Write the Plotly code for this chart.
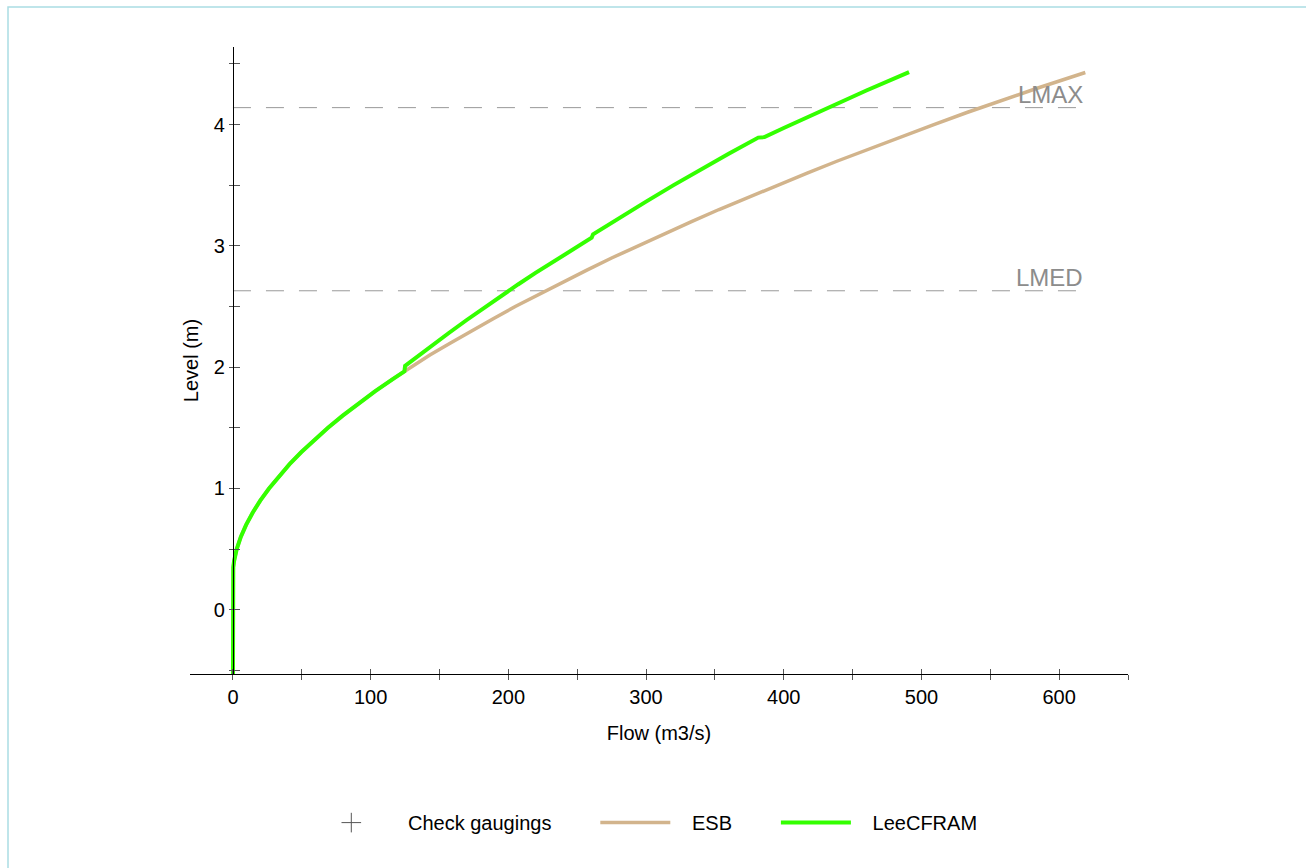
import plotly.graph_objects as go

# ---- data ----
esb_level = [-0.55, 0.0, 0.3, 0.35, 0.4, 0.45, 0.5, 0.6, 0.7, 0.8, 0.9, 1.0, 1.1, 1.2,
             1.3, 1.4, 1.5, 1.6, 1.7, 1.8, 1.9, 1.97, 2.0, 2.1, 2.2, 2.3, 2.4, 2.5,
             2.6, 2.7, 2.8, 2.9, 3.0, 3.1, 3.2, 3.3, 3.4, 3.5, 3.6, 3.7, 3.8, 3.9,
             4.0, 4.1, 4.2, 4.3, 4.43]
esb_flow = [0, 0, 0, 0.23, 0.79, 1.64, 2.74, 5.69, 9.55, 14.3, 19.8, 26.2, 33.3, 41.1,
            49.7, 59.0, 69.0, 79.7, 91.1, 103.1, 115.8, 125, 129.2, 143, 158, 173, 189, 205,
            222, 239, 257, 275, 294, 313, 333, 353, 374, 395, 417, 439, 462, 485,
            509, 533, 558, 584, 619]

lee_level = [-0.55, 0.0, 0.3, 0.35, 0.4, 0.45, 0.5, 0.6, 0.7, 0.8, 0.9, 1.0, 1.1, 1.2,
             1.3, 1.4, 1.5, 1.6, 1.7, 1.8, 1.9, 1.965,
             2.01, 2.097, 2.183, 2.284, 2.391, 2.488, 2.590, 2.682, 2.779, 2.867, 2.953,
             3.009, 3.067,
             3.095, 3.227, 3.365, 3.501, 3.632, 3.760, 3.893,
             3.897, 3.972, 4.077, 4.180, 4.281, 4.4325]
lee_flow = [0, 0, 0, 0.23, 0.79, 1.64, 2.74, 5.69, 9.55, 14.3, 19.8, 26.2, 33.3, 41.1,
            49.7, 59.0, 69.0, 79.7, 91.1, 103.1, 115.8, 124.5,
            125, 135, 145, 157, 170, 182, 195, 207, 220, 232, 244,
            252, 260.5,
            261.5, 280, 300, 320, 340, 360, 381.5,
            386, 400, 420, 440, 460, 491]

gauging_flow = [None]
gauging_level = [None]

ref_names = ["LMAX", "LMED"]
ref_levels = [4.14, 2.63]

x_tick_vals = list(range(0, 651, 50))
x_tick_text = [str(v) if v % 100 == 0 and v <= 600 else "" for v in x_tick_vals]
y_tick_vals = [-0.5, 0, 0.5, 1, 1.5, 2, 2.5, 3, 3.5, 4, 4.5]
y_tick_text = [str(int(v)) if float(v).is_integer() else "" for v in y_tick_vals]

x_range = [-31.2, 650]
y_range = [-0.53, 4.64]

FONT = "Liberation Sans, Arial, sans-serif"
W, H = 1306, 868
ML, MR, MT, MB = 190, 178, 47, 194

NB = "\u00a0"
def legend_name(text, last=False):
    return NB * 3 + text + ("" if last else NB * 7)

fig = go.Figure()

fig.add_trace(go.Scatter(
    x=gauging_flow, y=gauging_level, mode="markers", name=legend_name("Check gaugings"),
    marker=dict(symbol="cross-thin", size=14, color="#555555",
                line=dict(color="#555555", width=1)),
    xaxis="x2", yaxis="y2"))
fig.add_trace(go.Scatter(
    x=esb_flow, y=esb_level, mode="lines", name=legend_name("ESB"),
    line=dict(color="#d2b48c", width=3.5)))
fig.add_trace(go.Scatter(
    x=lee_flow, y=lee_level, mode="lines", name=legend_name("LeeCFRAM", last=True),
    line=dict(color="#33ff00", width=4)))

xmax_line = max(esb_flow)
for name, lvl in zip(ref_names, ref_levels):
    fig.add_shape(type="line", xref="x", yref="y", x0=0, x1=xmax_line, y0=lvl, y1=lvl,
                  line=dict(color="#999999", width=1, dash="18px,15px"), layer="below")
    fig.add_annotation(x=xmax_line, y=lvl, xref="x", yref="y", text=name,
                       showarrow=False, xanchor="right", yanchor="bottom", yshift=-2,
                       font=dict(family=FONT, size=24, color="#8c8c8c"))

pw = W - ML - MR
ph = H - MT - MB
# outer light border (page frame)
fig.add_shape(type="rect", xref="paper", yref="paper",
              x0=(8 - ML) / pw, x1=(1320 - ML) / pw,
              y0=(H - MB - 880) / ph, y1=(H - MB - 7) / ph,
              line=dict(color="#aadde3", width=1.5), layer="below")

ypos = (0 - x_range[0]) / (x_range[1] - x_range[0])

common_font = dict(family=FONT, size=20, color="#000000")

fig.update_layout(
    width=W, height=H,
    margin=dict(l=ML, r=MR, t=MT, b=MB),
    paper_bgcolor="white", plot_bgcolor="white",
    font=common_font,
    showlegend=True,
    legend=dict(orientation="h", x=0.487, xanchor="center", y=-0.237, yanchor="middle",
                font=dict(family=FONT, size=20, color="#000000"),
                itemwidth=70, bgcolor="rgba(0,0,0,0)"),
    xaxis=dict(range=x_range, showgrid=False, zeroline=False, showline=True,
               linecolor="#000000", linewidth=1, ticks="outside", ticklen=5,
               tickcolor="#555555", tickwidth=1,
               tickvals=x_tick_vals, ticktext=x_tick_text,
               tickfont=common_font,
               title=dict(text="Flow (m3/s)", font=common_font, standoff=18)),
    yaxis=dict(range=y_range, showgrid=False, zeroline=False, showline=True,
               linecolor="#000000", linewidth=1, anchor="free", position=ypos,
               ticks="outside", ticklen=4, tickcolor="#555555", tickwidth=1,
               tickvals=y_tick_vals, ticktext=y_tick_text,
               tickfont=common_font,
               title=dict(text="Level (m)", font=common_font, standoff=8)),
    xaxis2=dict(range=x_range, overlaying="x", anchor="y2", showgrid=False,
                zeroline=False, showline=False, ticks="inside", ticklen=5,
                tickcolor="#555555", tickwidth=1, tickvals=x_tick_vals,
                showticklabels=False),
    yaxis2=dict(range=y_range, overlaying="y", anchor="free", position=ypos,
                showgrid=False, zeroline=False, showline=False, ticks="inside",
                ticklen=6, tickcolor="#555555", tickwidth=1, tickvals=y_tick_vals,
                showticklabels=False),
)

fig.write_html("out.html")
